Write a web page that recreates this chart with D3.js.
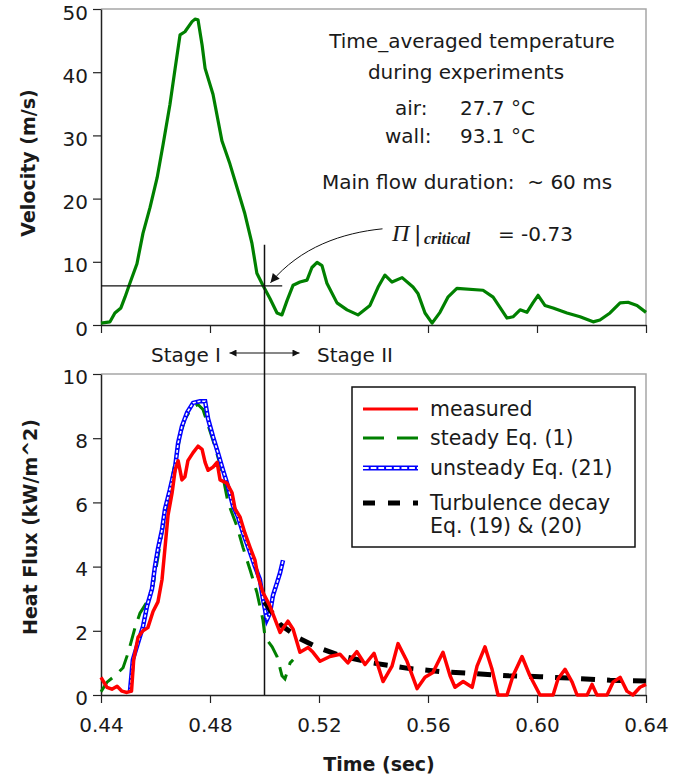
<!DOCTYPE html>
<html>
<head>
<meta charset="utf-8">
<script src="https://cdn.jsdelivr.net/npm/d3@7"></script>
<style>
  body { margin: 0; background: #fff; }
  svg text { fill: #1a1a1a; }
</style>
</head>
<body>
<div id="chart"></div>
<script>
// Colour palette
var green = "#008000";
var red = "#ff0000";
var blue = "#0000ff";
var frameGrey = "#a6a6a6";
var axisDark = "#222222";
const sans = "DejaVu Sans";
const serif = "Liberation Serif";

// Time axis (shared)
const timeTicks = [0.44, 0.48, 0.52, 0.56, 0.60, 0.64];
const velTicks = [0, 10, 20, 30, 40, 50];
const heatTicks = [0, 2, 4, 6, 8, 10];

// Velocity (m/s), top panel
const velTime = [0.4400, 0.4433, 0.4451, 0.4473, 0.4488, 0.4506, 0.4532, 0.4554, 0.4580, 0.4606,
  0.4628, 0.4653, 0.4672, 0.4690, 0.4708, 0.4734, 0.4745, 0.4756, 0.4771, 0.4782,
  0.4811, 0.4844, 0.4873, 0.4903, 0.4928, 0.4954, 0.4972, 0.4994, 0.5020, 0.5046,
  0.5064, 0.5083, 0.5105, 0.5130, 0.5156, 0.5174, 0.5193, 0.5211, 0.5229, 0.5266,
  0.5303, 0.5343, 0.5387, 0.5417, 0.5442, 0.5468, 0.5505, 0.5545, 0.5563, 0.5589,
  0.5615, 0.5644, 0.5673, 0.5706, 0.5802, 0.5839, 0.5864, 0.5890, 0.5912, 0.5938,
  0.5963, 0.5985, 0.6004, 0.6029, 0.6059, 0.6110, 0.6158, 0.6206, 0.6231, 0.6268,
  0.6305, 0.6334, 0.6367, 0.6400];
const velValue = [0.3, 0.5, 1.9, 2.7, 4.4, 6.6, 9.7, 14.5, 18.6, 23.3,
  28.6, 34.9, 40.6, 45.9, 46.4, 48.0, 48.4, 48.3, 44.3, 40.6,
  36.5, 29.1, 25.5, 21.2, 17.6, 12.9, 8.2, 6.3, 4.2, 1.9,
  1.6, 3.9, 6.3, 6.8, 7.1, 9.1, 9.9, 9.4, 6.6, 3.5,
  2.4, 1.6, 3.1, 6.0, 7.9, 6.8, 7.5, 6.0, 5.0, 1.9,
  0.3, 2.0, 4.4, 5.8, 5.5, 4.4, 2.8, 1.1, 1.3, 2.4,
  2.0, 3.5, 4.7, 3.1, 2.7, 1.9, 1.3, 0.5, 0.8, 1.9,
  3.5, 3.6, 3.1, 2.0];

// Heat flux (kW/m^2), bottom panel: measured
const measTime = [0.4400, 0.4422, 0.4440, 0.4459, 0.4477, 0.4495, 0.4512, 0.4520, 0.4536, 0.4554,
  0.4572, 0.4591, 0.4609, 0.4624, 0.4635, 0.4646, 0.4661, 0.4672, 0.4683, 0.4697,
  0.4708, 0.4719, 0.4738, 0.4756, 0.4771, 0.4782, 0.4793, 0.4811, 0.4826, 0.4837,
  0.4862, 0.4881, 0.4892, 0.4910, 0.4928, 0.4947, 0.4965, 0.4976, 0.4994, 0.5020,
  0.5057, 0.5086, 0.5105, 0.5130, 0.5160, 0.5178, 0.5204, 0.5240, 0.5277, 0.5306,
  0.5339, 0.5369, 0.5402, 0.5435, 0.5468, 0.5490, 0.5523, 0.5560, 0.5589, 0.5618,
  0.5655, 0.5681, 0.5699, 0.5729, 0.5762, 0.5780, 0.5809, 0.5835, 0.5857, 0.5890,
  0.5912, 0.5945, 0.5974, 0.6011, 0.6059, 0.6077, 0.6103, 0.6129, 0.6147, 0.6184,
  0.6202, 0.6220, 0.6257, 0.6279, 0.6305, 0.6330, 0.6352, 0.6378, 0.6400];
const measValue = [0.55, 0.24, 0.18, 0.27, 0.12, 0.08, 0.12, 1.1, 1.8, 2.0,
  2.1, 2.6, 2.9, 3.6, 4.6, 5.6, 6.3, 7.0, 7.3, 6.7,
  6.8, 7.3, 7.55, 7.75, 7.65, 7.25, 7.0, 7.1, 7.25, 6.7,
  6.6, 6.3, 5.8, 5.55, 5.05, 4.6, 4.2, 3.7, 3.2, 2.77,
  1.95, 2.3, 2.05, 1.33, 1.48, 1.33, 1.05, 1.2, 1.27, 1.0,
  1.35, 0.95, 1.3, 0.42, 0.9, 1.6, 1.05, 0.2, 0.55, 0.7,
  1.33, 0.6, 0.24, 0.42, 0.24, 0.9, 1.5, 0.8, 0, 0,
  0.6, 1.2, 0.6, 0, 0, 0.5, 0.8, 0.4, 0, 0,
  0.33, 0, 0, 0.4, 0.55, 0.12, 0, 0.24, 0.33];

// steady Eq. (1)
const steadyTime = [0.4400, 0.4422, 0.4451, 0.4481, 0.4499, 0.4525, 0.4543, 0.4569, 0.4591, 0.4609,
  0.4628, 0.4646, 0.4664, 0.4690, 0.4708, 0.4734, 0.4756, 0.4774, 0.4793, 0.4818,
  0.4844, 0.4866, 0.4899, 0.4921, 0.4947, 0.4972, 0.4994, 0.5002, 0.5028, 0.5046,
  0.5064, 0.5075, 0.5094, 0.5105];
const steadyValue = [0.1, 0.4, 0.6, 0.85, 1.3, 2.1, 2.55, 2.9, 3.4, 4.3,
  5.25, 6.0, 6.9, 8.05, 8.6, 8.95, 9.05, 8.9, 8.4, 7.75,
  6.95, 6.0, 5.25, 4.6, 3.9, 3.2, 2.35, 1.8, 1.5, 1.2,
  0.6, 0.5, 1.0, 1.1];

// unsteady Eq. (21)
const unsteadyTime = [0.4506, 0.4517, 0.4536, 0.4554, 0.4569, 0.4587, 0.4598, 0.4609, 0.4624, 0.4635,
  0.4653, 0.4672, 0.4683, 0.4697, 0.4716, 0.4738, 0.4763, 0.4782, 0.4793, 0.4811,
  0.4829, 0.4848, 0.4866, 0.4884, 0.4903, 0.4921, 0.4947, 0.4965, 0.4983, 0.4994,
  0.5009, 0.5020, 0.5031, 0.5046, 0.5057, 0.5068];
const unsteadyValue = [0.08, 1.1, 1.63, 2.13, 2.77, 3.3, 4.0, 4.55, 5.15, 5.8,
  6.4, 7.1, 7.85, 8.37, 8.8, 9.1, 9.15, 9.15, 8.6, 8.05,
  7.55, 7.0, 6.5, 5.9, 5.55, 5.05, 4.45, 4.0, 3.6, 3.0,
  2.35, 2.55, 3.1, 3.5, 3.8, 4.2];

// Turbulence decay Eq. (19) & (20)
const decayTime = [0.5000, 0.5057, 0.5130, 0.5196, 0.5277, 0.5395, 0.5527, 0.5644, 0.5762, 0.5894,
  0.6011, 0.6140, 0.6268, 0.6400];
const decayValue = [2.9, 2.2, 1.75, 1.48, 1.23, 1.0, 0.83, 0.73, 0.67, 0.6,
  0.57, 0.52, 0.46, 0.44];

// Critical point
const critTime = 0.50;
const critVel = 6.2;

const legendLabels = ["measured", "steady Eq. (1)", "unsteady Eq. (21)", "Turbulence decay"];

// Layout
const svg = d3.select("#chart")
  .append("svg")
  .attr("width", 680)
  .attr("height", 780)
  .style("font-family", sans);

const x = d3.scaleLinear().domain([0.44, 0.64]).range([101, 646]);
const yVel = d3.scaleLinear().domain([0, 50]).range([325, 9]);
const yHeat = d3.scaleLinear().domain([0, 10]).range([695, 374]);

// grey frame (top + right) for both panels
function frame(y) {
  svg.append("path")
    .attr("d", `M${x(0.44)},${y.range()[1]}H${x(0.64)}V${y.range()[0]}`)
    .attr("fill", "none")
    .attr("stroke", frameGrey)
    .attr("stroke-width", 1.5);
}
frame(yVel);
frame(yHeat);

function styleAxis(g) {
  g.select(".domain").attr("stroke", axisDark).attr("stroke-width", 1.5);
  g.selectAll(".tick line").attr("stroke", axisDark).attr("stroke-width", 1.2);
  g.selectAll("text")
    .style("font-family", sans)
    .attr("font-size", 20)
    .attr("fill", "#262626");
}

// top axes
svg.append("g")
  .attr("transform", `translate(0,${yVel(0)})`)
  .call(d3.axisBottom(x).tickValues(timeTicks).tickSize(8).tickSizeOuter(0).tickFormat(""))
  .call(styleAxis);
svg.append("g")
  .attr("transform", `translate(${x(0.44)},0)`)
  .call(d3.axisLeft(yVel).tickValues(velTicks).tickSize(8).tickSizeOuter(0).tickPadding(5))
  .call(styleAxis)
  .selectAll(".tick text").attr("dy", "0.5em");

// bottom axes
svg.append("g")
  .attr("transform", `translate(0,${yHeat(0)})`)
  .call(d3.axisBottom(x).tickValues(timeTicks).tickSize(8).tickSizeOuter(0).tickPadding(15)
    .tickFormat(d3.format(".2f")))
  .call(styleAxis);
svg.append("g")
  .attr("transform", `translate(${x(0.44)},0)`)
  .call(d3.axisLeft(yHeat).tickValues(heatTicks).tickSize(8).tickSizeOuter(0).tickPadding(5))
  .call(styleAxis)
  .selectAll(".tick text").attr("dy", "0.45em");

// axis titles
svg.append("text")
  .attr("transform", "translate(35,163) rotate(-90)")
  .attr("text-anchor", "middle")
  .attr("font-weight", "bold")
  .attr("font-size", 19)
  .text("Velocity (m/s)");
svg.append("text")
  .attr("transform", "translate(37,527) rotate(-90)")
  .attr("text-anchor", "middle")
  .attr("font-weight", "bold")
  .attr("font-size", 19)
  .text("Heat Flux (kW/m^2)");
svg.append("text")
  .attr("x", 379)
  .attr("y", 771)
  .attr("text-anchor", "middle")
  .attr("font-weight", "bold")
  .attr("font-size", 19)
  .text("Time (sec)");

// velocity line
svg.append("path")
  .datum(velValue)
  .attr("d", d3.line().x((d, i) => x(velTime[i])).y(d => yVel(d)))
  .attr("fill", "none")
  .attr("stroke", green)
  .attr("stroke-width", 3.2)
  .attr("stroke-linejoin", "round");

// critical lines
svg.append("line")
  .attr("x1", x(0.44)).attr("x2", x(0.5065))
  .attr("y1", yVel(critVel)).attr("y2", yVel(critVel))
  .attr("stroke", "#111").attr("stroke-width", 1.2);
svg.append("line")
  .attr("x1", x(critTime)).attr("x2", x(critTime))
  .attr("y1", yVel(12.7)).attr("y2", yHeat(0))
  .attr("stroke", "#111").attr("stroke-width", 1.5);

// markers
const defs = svg.append("defs");
defs.append("marker")
  .attr("id", "arrowHead")
  .attr("viewBox", "0 0 10 10")
  .attr("refX", 10).attr("refY", 5)
  .attr("markerWidth", 12).attr("markerHeight", 9)
  .attr("markerUnits", "userSpaceOnUse")
  .attr("orient", "auto")
  .append("path").attr("d", "M0,0L10,5L0,10z").attr("fill", "#111");
defs.append("marker")
  .attr("id", "stageHead")
  .attr("viewBox", "0 0 10 10")
  .attr("refX", 10).attr("refY", 5)
  .attr("markerWidth", 10).attr("markerHeight", 7)
  .attr("markerUnits", "userSpaceOnUse")
  .attr("orient", "auto")
  .append("path").attr("d", "M0,0L10,5L0,10z").attr("fill", "#111");

// annotation arrow towards critical point
const tipX = x(critTime) + 6, tipY = yVel(critVel) - 3;
svg.append("path")
  .attr("d", `M${tipX + 112},${tipY - 54} C${tipX + 72},${tipY - 50} ${tipX + 30},${tipY - 36} ${tipX},${tipY}`)
  .attr("fill", "none")
  .attr("stroke", "#111")
  .attr("stroke-width", 1)
  .attr("marker-end", "url(#arrowHead)");

// annotation text (top panel)
const ann = svg.append("g").attr("font-size", 20);
ann.append("text").attr("x", 472).attr("y", 48).attr("text-anchor", "middle").text("Time_averaged temperature");
ann.append("text").attr("x", 466).attr("y", 79).attr("text-anchor", "middle").text("during experiments");
ann.append("text").attr("x", 395).attr("y", 115).text("air:");
ann.append("text").attr("x", 460).attr("y", 115).text("27.7 \u00B0C");
ann.append("text").attr("x", 385).attr("y", 143).text("wall:");
ann.append("text").attr("x", 460).attr("y", 143).text("93.1 \u00B0C");
ann.append("text").attr("x", 322).attr("y", 189).style("white-space", "pre").text("Main flow duration:  ~ 60 ms");
ann.append("text").attr("x", 392).attr("y", 241)
  .style("font-family", serif).attr("font-style", "italic").attr("font-size", 24)
  .text("\u03A0");
ann.append("text").attr("x", 414).attr("y", 241).attr("font-size", 22).text("|");
ann.append("text").attr("x", 424).attr("y", 244)
  .style("font-family", serif).attr("font-style", "italic").attr("font-weight", "bold")
  .attr("font-size", 16).text("critical");
ann.append("text").attr("x", 498).attr("y", 241).style("white-space", "pre").text("= -0.73");

// stage arrows
const stageY = 353;
svg.append("line")
  .attr("x1", x(critTime)).attr("x2", x(critTime) - 35)
  .attr("y1", stageY).attr("y2", stageY)
  .attr("stroke", "#111").attr("stroke-width", 1.2)
  .attr("marker-end", "url(#stageHead)");
svg.append("line")
  .attr("x1", x(critTime)).attr("x2", x(critTime) + 35)
  .attr("y1", stageY).attr("y2", stageY)
  .attr("stroke", "#111").attr("stroke-width", 1.2)
  .attr("marker-end", "url(#stageHead)");
svg.append("text").attr("x", 221).attr("y", 362).attr("text-anchor", "end").attr("font-size", 20).text("Stage I");
svg.append("text").attr("x", 317).attr("y", 362).attr("font-size", 20).text("Stage II");

// heat flux series
const heatLine = (times) => d3.line().x((d, i) => x(times[i])).y(d => yHeat(d));

svg.append("path")
  .datum(steadyValue)
  .attr("d", heatLine(steadyTime))
  .attr("fill", "none")
  .attr("stroke", green)
  .attr("stroke-width", 3)
  .attr("stroke-dasharray", "18,10");

const unsteady = heatLine(unsteadyTime)(unsteadyValue);
svg.append("path")
  .attr("d", unsteady)
  .attr("fill", "none")
  .attr("stroke", blue)
  .attr("stroke-width", 4.5);
svg.append("path")
  .attr("d", unsteady)
  .attr("fill", "none")
  .attr("stroke", "#fff")
  .attr("stroke-width", 1.6)
  .attr("stroke-dasharray", "3,1.8");

svg.append("path")
  .datum(decayValue)
  .attr("d", heatLine(decayTime))
  .attr("fill", "none")
  .attr("stroke", "#000")
  .attr("stroke-width", 5)
  .attr("stroke-dasharray", "14,12");

svg.append("path")
  .datum(measValue)
  .attr("d", heatLine(measTime))
  .attr("fill", "none")
  .attr("stroke", red)
  .attr("stroke-width", 3.5)
  .attr("stroke-linejoin", "round");

// legend
const legend = svg.append("g").attr("transform", "translate(352,387)");
legend.append("rect")
  .attr("width", 283).attr("height", 160)
  .attr("fill", "#fff").attr("stroke", "#111").attr("stroke-width", 1.5);

const rowY = [22, 51, 81, 116];
const sampleStyles = [
  { stroke: red, width: 3, dash: null },
  { stroke: green, width: 3, dash: "21,13" },
  { stroke: blue, width: 5, dash: null },
  { stroke: "#000", width: 5, dash: "12,13" }
];
legendLabels.forEach((label, i) => {
  const s = sampleStyles[i];
  legend.append("line")
    .attr("x1", 11).attr("x2", 66)
    .attr("y1", rowY[i]).attr("y2", rowY[i])
    .attr("stroke", s.stroke).attr("stroke-width", s.width)
    .attr("stroke-dasharray", s.dash);
  if (i === 2) {
    legend.append("line")
      .attr("x1", 11).attr("x2", 66)
      .attr("y1", rowY[i]).attr("y2", rowY[i])
      .attr("stroke", "#fff").attr("stroke-width", 2)
      .attr("stroke-dasharray", "5.7,2");
  }
  legend.append("text")
    .attr("x", 78).attr("y", rowY[i] + 7)
    .attr("font-size", 20.5)
    .text(label);
});
legend.append("text")
  .attr("x", 78).attr("y", 146)
  .attr("font-size", 20.5)
  .text("Eq. (19) & (20)");
</script>
</body>
</html>
